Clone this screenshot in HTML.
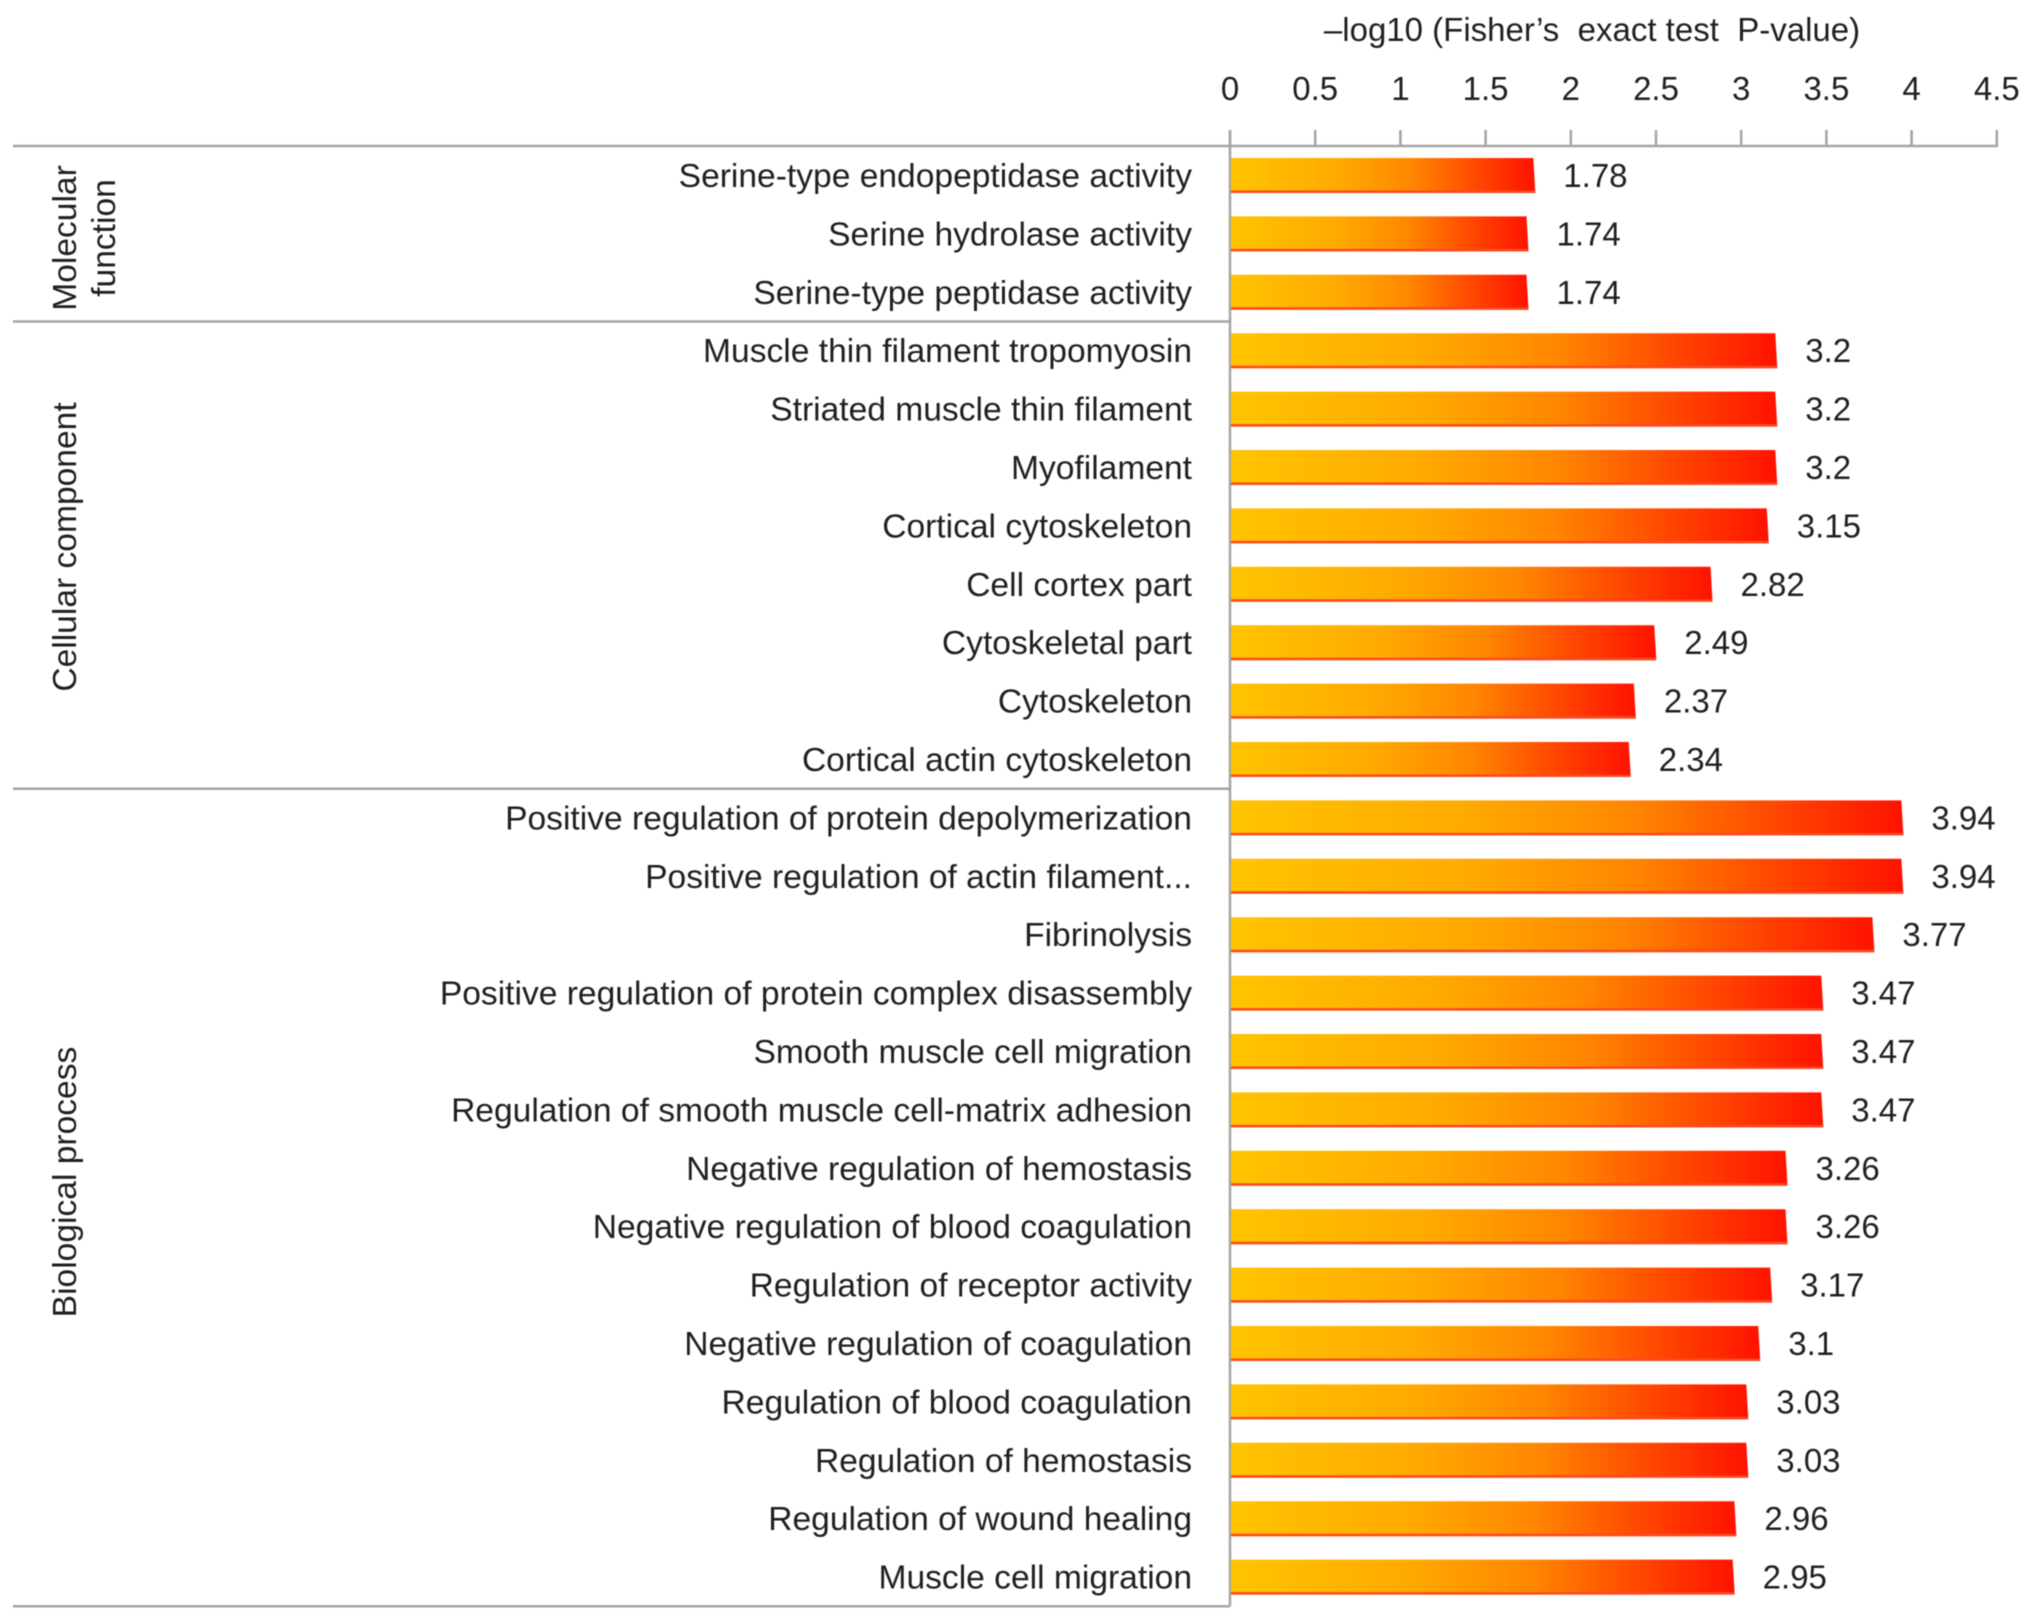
<!DOCTYPE html>
<html lang="en">
<head>
<meta charset="utf-8">
<title>GO enrichment bar chart</title>
<style>
  html, body { margin: 0; padding: 0; background: #fff; }
  body { width: 2032px; height: 1621px; overflow: hidden; }
  svg { display: block; filter: blur(0.5px); }
  text { font-family: "Liberation Sans", sans-serif; fill: #1f1f1f; font-size: 33px; white-space: pre; }
  #labels text { font-size: 33.6px; }
  .group-label { font-size: 33.6px; }
</style>
</head>
<body>
<svg id="chart" xmlns="http://www.w3.org/2000/svg" width="2032" height="1621" viewBox="0 0 2032 1621">
  <defs>
    <linearGradient id="barFill" x1="0" x2="1" y1="0" y2="0">
      <stop offset="0" stop-color="#ffc400"/>
      <stop offset="0.35" stop-color="#ffaa00"/>
      <stop offset="0.6" stop-color="#ff8600"/>
      <stop offset="0.8" stop-color="#ff4a00"/>
      <stop offset="1" stop-color="#ff1200"/>
    </linearGradient>
  </defs>
  <rect x="0" y="0" width="2032" height="1621" fill="#ffffff"/>
  <text x="1592" y="41" text-anchor="middle">–log10 (Fisher’s  exact test  P-value)</text>
  <text class="group-label" text-anchor="middle" transform="translate(76 238) rotate(-90)">Molecular</text>
  <text class="group-label" text-anchor="middle" transform="translate(115 238) rotate(-90)">function</text>
  <text class="group-label" text-anchor="middle" transform="translate(76 547) rotate(-90)">Cellular component</text>
  <text class="group-label" text-anchor="middle" transform="translate(76 1182) rotate(-90)">Biological process</text>
  <g id="axes"></g>
  <g id="bars"></g>
  <g id="labels"></g>
  <g id="values"></g>
</svg>
<script>
const categories = [
  "Serine-type endopeptidase activity",
  "Serine hydrolase activity",
  "Serine-type peptidase activity",
  "Muscle thin filament tropomyosin",
  "Striated muscle thin filament",
  "Myofilament",
  "Cortical cytoskeleton",
  "Cell cortex part",
  "Cytoskeletal part",
  "Cytoskeleton",
  "Cortical actin cytoskeleton",
  "Positive regulation of protein depolymerization",
  "Positive regulation of actin filament...",
  "Fibrinolysis",
  "Positive regulation of protein complex disassembly",
  "Smooth muscle cell migration",
  "Regulation of smooth muscle cell-matrix adhesion",
  "Negative regulation of hemostasis",
  "Negative regulation of blood coagulation",
  "Regulation of receptor activity",
  "Negative regulation of coagulation",
  "Regulation of blood coagulation",
  "Regulation of hemostasis",
  "Regulation of wound healing",
  "Muscle cell migration"
];
const values = [1.78, 1.74, 1.74, 3.2, 3.2, 3.2, 3.15, 2.82, 2.49, 2.37, 2.34, 3.94, 3.94, 3.77, 3.47, 3.47, 3.47, 3.26, 3.26, 3.17, 3.1, 3.03, 3.03, 2.96, 2.95];
const tickLabels = ["0", "0.5", "1", "1.5", "2", "2.5", "3", "3.5", "4", "4.5"];
const groupCounts = [3, 8, 14];

const SVG_NS = "http://www.w3.org/2000/svg";
const axisColor = "#a4a4a4";
const x0 = 1230, pxPerUnit = 170.4;
const firstCenter = 175.5, pitch = 58.4, barH = 35;
const xScale = v => x0 + v * pxPerUnit;
const yScale = i => firstCenter + i * pitch;

function make(tag, attrs, parent) {
  const el = document.createElementNS(SVG_NS, tag);
  for (const k in attrs) el.setAttribute(k, attrs[k]);
  parent.appendChild(el);
  return el;
}
const axes = document.getElementById("axes");
const barsG = document.getElementById("bars");
const labelsG = document.getElementById("labels");
const valuesG = document.getElementById("values");

const lineStyle = { stroke: axisColor, "stroke-width": 2.5 };

const topAxis = make("line", Object.assign({ x1: 13, x2: xScale(4.5) + 1, y1: 146, y2: 146 }, lineStyle), axes);



const yAxis = make("line", Object.assign({ x1: x0, x2: x0, y1: 130, y2: 1606 }, lineStyle), axes);



tickLabels.forEach(t => {
  const x = xScale(parseFloat(t));
  const tick = make("line", Object.assign({ x1: x, x2: x, y1: 130, y2: 146 }, lineStyle), axes);
  
  
  const lab = make("text", { x: x, y: 100, "text-anchor": "middle" }, axes);
  
  
  lab.textContent = t;
});

let seen = 0;
groupCounts.forEach(n => {
  seen += n;
  const y = yScale(seen - 0.5);
  const sep = make("line", Object.assign({ x1: 13, x2: x0, y1: y, y2: y }, lineStyle), axes);
  
  
});

categories.forEach((c, i) => {
  const v = values[i];
  const cy = yScale(i);
  const top = cy - barH / 2, bot = cy + barH / 2;
  const xe = xScale(v);

  const bar = make("polygon", {
    points: `${x0 + 1},${top} ${xe},${top} ${xe + 2},${bot} ${x0 + 1},${bot}`,
    fill: "url(#barFill)"
  }, barsG);
  
  

  const stripe = make("polygon", {
    points: `${x0 + 1},${bot - 2.5} ${xe + 1.8},${bot - 2.5} ${xe + 2},${bot} ${x0 + 1},${bot}`,
    fill: "#fb4a22"
  }, barsG);
  
  

  const lab = make("text", { x: 1192, y: cy + 11.5, "text-anchor": "end" }, labelsG);
  
  
  lab.textContent = c;

  const val = make("text", { x: xe + 30, y: cy + 11.5 }, valuesG);
  
  
  val.textContent = String(v);
});
</script>
</body>
</html>
